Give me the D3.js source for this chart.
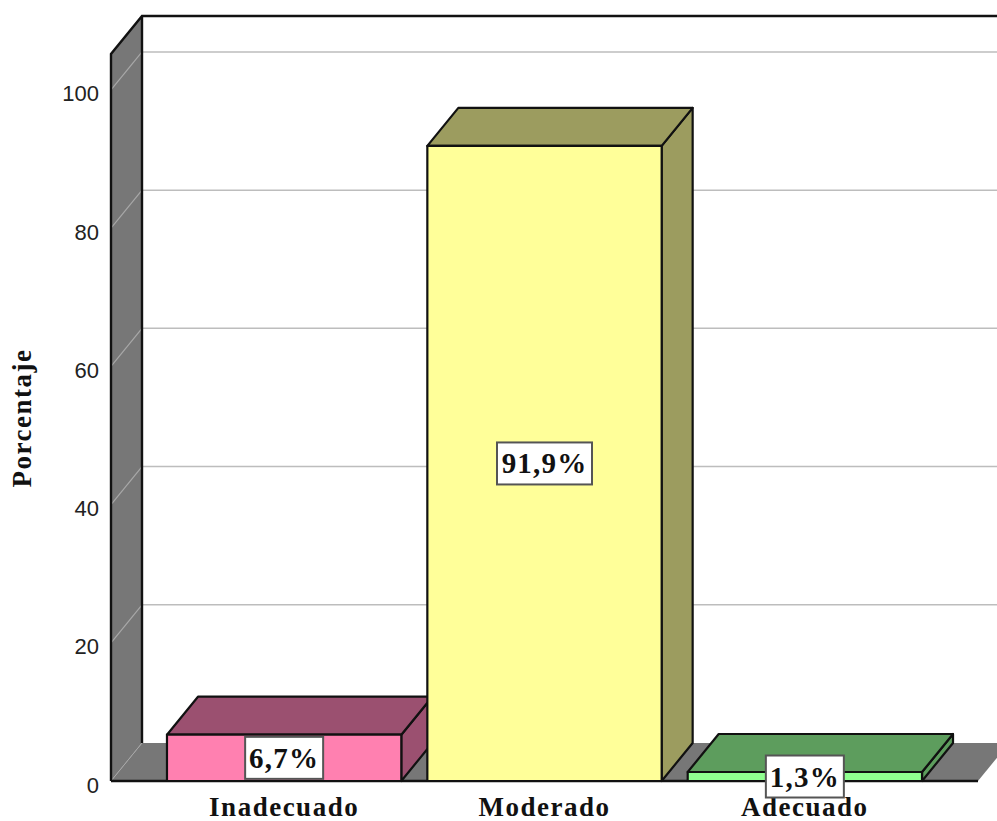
<!DOCTYPE html>
<html>
<head>
<meta charset="utf-8">
<script src="https://cdn.jsdelivr.net/npm/d3@7"></script>
<style>
  html, body { margin: 0; padding: 0; background: #fff; overflow: hidden; }
  svg { display: block; }
</style>
</head>
<body>
<div id="chart"></div>
<script>
const categories = ["Inadecuado", "Moderado", "Adecuado"];
const values = [6.7, 91.9, 1.3];
const valueLabels = ["6,7%", "91,9%", "1,3%"];
const yTicks = [0, 20, 40, 60, 80, 100];
const frontColors = ["#FF80B0", "#FFFF99", "#90FF90"];
const shadeColors = ["#9B5070", "#9C9C5F", "#5D9D5D"];

const width = 997, height = 821;
const depthX = 31, depthY = -38;
const x0 = 111, x1 = 978, y0 = 781;
const serif = "'Liberation Serif', 'Times New Roman', serif";

const svg = d3.select("#chart").append("svg")
  .attr("width", width)
  .attr("height", height);

const xScale = d3.scaleBand()
  .domain(categories)
  .range([x0, x1])
  .paddingInner(0.1)
  .paddingOuter(0.215);

const yScale = d3.scaleLinear()
  .domain([0, 105.2])
  .range([y0, 54]);

const yTop = yScale.range()[1];
const poly = pts => pts.map(p => p.join(",")).join(" ");

// Floor and left wall
svg.append("polygon")
  .attr("points", poly([[x0, y0], [x1, y0], [x1 + depthX, y0 + depthY], [x0 + depthX, y0 + depthY]]))
  .attr("fill", "#777777")
  .attr("stroke", "none");

svg.append("polygon")
  .attr("points", poly([[x0, y0], [x0 + depthX, y0 + depthY], [x0 + depthX, yTop + depthY], [x0, yTop]]))
  .attr("fill", "#777777")
  .attr("stroke", "none");

// Grid lines, back wall plus the slanted bit on the left wall
const grid = svg.append("g");
grid.selectAll(".back")
  .data(yTicks.slice(1))
  .enter().append("line")
  .attr("x1", x0 + depthX)
  .attr("x2", width)
  .attr("y1", d => yScale(d) + depthY)
  .attr("y2", d => yScale(d) + depthY)
  .attr("stroke", "#BDBDBD")
  .attr("stroke-width", 1.5);

grid.selectAll(".wall")
  .data(yTicks.slice(1))
  .enter().append("line")
  .attr("x1", x0)
  .attr("x2", x0 + depthX)
  .attr("y1", d => yScale(d))
  .attr("y2", d => yScale(d) + depthY)
  .attr("stroke", "#A8A8A8")
  .attr("stroke-width", 1.2);

svg.append("line")
  .attr("x1", x0)
  .attr("x2", x0 + depthX)
  .attr("y1", y0)
  .attr("y2", y0 + depthY)
  .attr("stroke", "#A8A8A8")
  .attr("stroke-width", 1);

// Wall outlines
svg.append("path")
  .attr("d", `M${x0},${y0}V${yTop}L${x0 + depthX},${yTop + depthY}H${width}M${x0 + depthX},${yTop + depthY}V${y0 + depthY}`)
  .attr("fill", "none")
  .attr("stroke", "#111")
  .attr("stroke-width", 2.4);

svg.append("path")
  .attr("d", `M${x0},${y0}H${x1}`)
  .attr("fill", "none")
  .attr("stroke", "#111")
  .attr("stroke-width", 2.4);

// Bars
const bars = svg.selectAll(".bar")
  .data(categories)
  .enter().append("g")
  .attr("class", "bar")
  .attr("stroke", "#111")
  .attr("stroke-width", 2.2)
  .attr("stroke-linejoin", "round");

bars.append("polygon")
  .attr("fill", (d, i) => shadeColors[i])
  .attr("points", (d, i) => {
    const r = xScale(d) + xScale.bandwidth(), t = yScale(values[i]);
    return poly([[r, t], [r + depthX, t + depthY], [r + depthX, y0 + depthY], [r, y0]]);
  });

bars.append("polygon")
  .attr("fill", (d, i) => shadeColors[i])
  .attr("points", (d, i) => {
    const l = xScale(d), r = l + xScale.bandwidth(), t = yScale(values[i]);
    return poly([[l, t], [l + depthX, t + depthY], [r + depthX, t + depthY], [r, t]]);
  });

bars.append("rect")
  .attr("fill", (d, i) => frontColors[i])
  .attr("x", d => xScale(d))
  .attr("width", xScale.bandwidth())
  .attr("y", (d, i) => yScale(values[i]))
  .attr("height", (d, i) => y0 - yScale(values[i]));

// Y axis, no domain line
const yAxis = svg.append("g")
  .attr("transform", `translate(${x0},0)`)
  .call(d3.axisLeft(yScale).tickValues(yTicks).tickSize(0).tickPadding(12));
yAxis.select(".domain").remove();
yAxis.selectAll("text")
  .attr("dy", "0.5em")
  .style("font-family", "'Liberation Sans', Arial, sans-serif")
  .style("font-size", "22px")
  .style("fill", "#222");

// Category labels
svg.selectAll(".cat")
  .data(categories)
  .enter().append("text")
  .attr("class", "cat")
  .attr("x", d => xScale(d) + xScale.bandwidth() / 2)
  .attr("y", 816)
  .attr("text-anchor", "middle")
  .style("font-family", serif)
  .style("font-weight", "700")
  .style("font-size", "27px")
  .style("letter-spacing", "1.5px")
  .style("fill", "#111")
  .text(d => d);

// Y axis title
svg.append("text")
  .attr("transform", "translate(31,418) rotate(-90)")
  .attr("text-anchor", "middle")
  .style("font-family", serif)
  .style("font-weight", "700")
  .style("font-size", "27px")
  .style("letter-spacing", "1.5px")
  .style("fill", "#111")
  .text("Porcentaje");

// Value labels with boxes
const labels = svg.selectAll(".val")
  .data(categories)
  .enter().append("g")
  .attr("class", "val")
  .attr("transform", (d, i) => `translate(${xScale(d) + xScale.bandwidth() / 2},${(yScale(values[i]) + y0) / 2})`);

labels.append("rect")
  .attr("x", (d, i) => -(valueLabels[i].length > 4 ? 47.5 : 39))
  .attr("width", (d, i) => valueLabels[i].length > 4 ? 95 : 78)
  .attr("y", -21)
  .attr("height", 42)
  .attr("fill", "#fff")
  .attr("stroke", "#555")
  .attr("stroke-width", 2);

labels.append("text")
  .attr("text-anchor", "middle")
  .attr("y", 10)
  .style("font-family", serif)
  .style("font-weight", "700")
  .style("font-size", "29px")
  .style("letter-spacing", "1.2px")
  .style("fill", "#111")
  .text((d, i) => valueLabels[i]);
</script>
</body>
</html>
